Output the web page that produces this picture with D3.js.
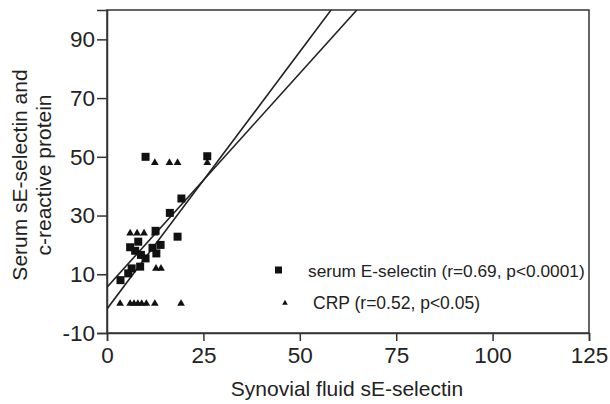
<!DOCTYPE html>
<html>
<head>
<meta charset="utf-8">
<script src="https://cdn.jsdelivr.net/npm/d3@7"></script>
<style>
  html, body { margin: 0; padding: 0; background: #fff; }
  svg { display: block; font-family: "Liberation Sans", Arial, sans-serif; }
</style>
</head>
<body>
<svg id="chart" width="610" height="404"></svg>
<script>
// ---- data ----
const xTicks = [0, 25, 50, 75, 100, 125];
const yTicks = [-10, 10, 30, 50, 70, 90];
const xDomain = [0, 125];
const yDomain = [-10, 100];

// serum E-selectin (squares): [synovial fluid sE-selectin, serum value]
const serumPoints = [
  [10.0, 50.0], [26.0, 50.2], [19.3, 35.8], [16.3, 30.9], [12.6, 24.8],
  [18.3, 22.8], [13.9, 20.0], [12.8, 17.1], [8.1, 21.1], [6.0, 19.2],
  [7.3, 18.0], [8.8, 16.6], [10.0, 15.4], [11.8, 19.0], [8.6, 12.6],
  [6.4, 12.0], [5.5, 10.3], [3.5, 8.0]
];
// CRP (triangles)
const crpPoints = [
  [3.4, 0], [6.0, 0], [7.0, 0], [8.0, 0], [9.0, 0], [10.2, 0], [12.4, 0], [19.2, 0],
  [12.7, 12.0], [14.0, 12.0],
  [6.0, 24.0], [7.8, 24.0], [9.6, 24.0], [12.4, 24.0],
  [12.4, 48.0], [16.2, 48.0], [18.3, 48.0], [26.0, 48.0]
];
// regression lines: [intercept, slope]
const serumFit = [5.6, 1.457];
const crpFit = [-1.8, 1.752];

const legendLabels = ["serum E-selectin (r=0.69, p<0.0001)", "CRP (r=0.52, p<0.05)"];
const xTitle = "Synovial fluid sE-selectin";
const yTitle = ["Serum sE-selectin and", "c-reactive protein"];

// ---- layout ----
const svg = d3.select("#chart");
const L = 107, R = 589, T = 10, B = 333;
const x = d3.scaleLinear().domain(xDomain).range([L, R]);
const y = d3.scaleLinear().domain(yDomain).range([B, T]);
const ink = "#222";
const fmt = d => String(d);

svg.append("defs").append("clipPath").attr("id", "plotclip")
  .append("rect").attr("x", L).attr("y", T).attr("width", R - L).attr("height", B - T);

// box
svg.append("rect").attr("x", L).attr("y", T).attr("width", R - L).attr("height", B - T)
  .attr("fill", "none").attr("stroke", "#333").attr("stroke-width", 1.5);

// axes
const xAxis = svg.append("g").attr("transform", `translate(0,${B})`)
  .call(d3.axisBottom(x).tickValues(xTicks).tickSize(8).tickPadding(6).tickFormat(fmt));
const yAxis = svg.append("g").attr("transform", `translate(${L},0)`)
  .call(d3.axisLeft(y).tickValues(yTicks).tickSize(10).tickPadding(2).tickFormat(fmt));
[xAxis, yAxis].forEach(g => {
  g.select(".domain").attr("stroke", "#333").attr("stroke-width", 1.5);
  g.selectAll(".tick line").attr("stroke", "#333").attr("stroke-width", 1.5);
  g.selectAll(".tick text").attr("fill", ink).style("font-size", "22.5px")
    .style("font-family", "'Liberation Sans', Arial, sans-serif");
});

// regression lines
const plot = svg.append("g").attr("clip-path", "url(#plotclip)");
[serumFit, crpFit].forEach(([a, b]) => {
  const xEnd = (yDomain[1] - a) / b;
  plot.append("line")
    .attr("x1", x(0)).attr("y1", y(a))
    .attr("x2", x(xEnd)).attr("y2", y(yDomain[1]))
    .attr("stroke", ink).attr("stroke-width", 1.6);
});

// markers
const sq = 8;
plot.selectAll("rect.serum").data(serumPoints).join("rect")
  .attr("class", "serum")
  .attr("x", d => x(d[0]) - sq / 2).attr("y", d => y(d[1]) - sq / 2)
  .attr("width", sq).attr("height", sq).attr("fill", "#111");
const tri = d3.symbol().type(d3.symbolTriangle).size(26);
plot.selectAll("path.crp").data(crpPoints).join("path")
  .attr("class", "crp")
  .attr("transform", d => `translate(${x(d[0])},${y(d[1])})`)
  .attr("d", tri).attr("fill", "#111");

// legend
svg.append("rect").attr("x", 275).attr("y", 266.5).attr("width", 7).attr("height", 7).attr("fill", "#111");
svg.append("path").attr("transform", "translate(285,303)")
  .attr("d", d3.symbol().type(d3.symbolTriangle).size(14)).attr("fill", "#111");
svg.append("text").attr("x", 308).attr("y", 277).attr("fill", ink)
  .style("font-size", "17.3px").text(legendLabels[0]);
svg.append("text").attr("x", 313).attr("y", 309).attr("fill", ink)
  .style("font-size", "17.5px").text(legendLabels[1]);

// axis titles
svg.append("text").attr("x", (L + R) / 2 - 1).attr("y", 396).attr("text-anchor", "middle")
  .attr("fill", ink).style("font-size", "21px").text(xTitle);
const yt = svg.append("text").attr("transform", "translate(0,175) rotate(-90)")
  .attr("text-anchor", "middle").attr("fill", ink).style("font-size", "21px");
yt.append("tspan").attr("x", 0).attr("y", 27).text(yTitle[0]);
yt.append("tspan").attr("x", 0).attr("y", 51).text(yTitle[1]);
</script>
</body>
</html>
